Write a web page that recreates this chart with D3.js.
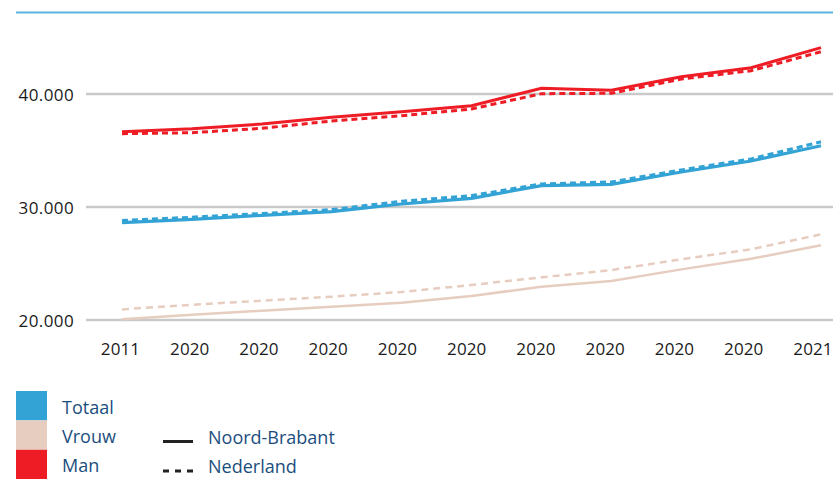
<!DOCTYPE html>
<html>
<head>
<meta charset="utf-8">
<script src="https://cdn.jsdelivr.net/npm/d3@7"></script>
<style>
  html, body { margin: 0; padding: 0; background: #fff; }
  svg { display: block; }
  text { font-family: "Open Sans", sans-serif; }
</style>
</head>
<body>
<svg id="chart" width="837" height="479"></svg>
<script>
const categories = ["2011","2020","2020","2020","2020","2020","2020","2020","2020","2020","2021"];
const yTicks = [20000, 30000, 40000];

const totaalNB = [28610, 28910, 29265, 29590, 30265, 30770, 31885, 32010, 33100, 34070, 35420];
const totaalNL = [28790, 29090, 29410, 29760, 30500, 31000, 32035, 32210, 33270, 34250, 35770];
const vrouwNB  = [20060, 20470, 20820, 21180, 21530, 22120, 22950, 23450, 24480, 25420, 26610];
const vrouwNL  = [20940, 21350, 21710, 22060, 22480, 23100, 23780, 24420, 25370, 26260, 27580];
const manNB    = [36660, 36930, 37345, 37935, 38434, 38965, 40504, 40327, 41531, 42327, 44100];
const manNL    = [36490, 36575, 36965, 37610, 38080, 38673, 40027, 40062, 41327, 42062, 43743];

const groups = ["Totaal", "Vrouw", "Man"];
const colors = { Totaal: "#33a3d5", Vrouw: "#e6cdbf", Man: "#ee1c25" };
const regions = ["Noord-Brabant", "Nederland"];

const series = [
  { group: "Vrouw",  region: "Noord-Brabant", values: vrouwNB,  width: 2.5 },
  { group: "Vrouw",  region: "Nederland",     values: vrouwNL,  width: 2.5 },
  { group: "Totaal", region: "Noord-Brabant", values: totaalNB, width: 3.2 },
  { group: "Totaal", region: "Nederland",     values: totaalNL, width: 3.2 },
  { group: "Man",    region: "Noord-Brabant", values: manNB,    width: 3 },
  { group: "Man",    region: "Nederland",     values: manNL,    width: 3 }
];

const svg = d3.select("#chart");

const x = d3.scalePoint().domain(d3.range(categories.length)).range([122, 821]);
const xLabel = d3.scalePoint().domain(d3.range(categories.length)).range([120.5, 813]);
const y = d3.scaleLinear().domain([20000, 40000]).range([320, 94]);

// top decorative line
svg.append("line")
  .attr("x1", 16).attr("x2", 833).attr("y1", 12.5).attr("y2", 12.5)
  .attr("stroke", "#5ab4e0").attr("stroke-width", 2);

// gridlines
svg.append("g").selectAll("line").data(yTicks).join("line")
  .attr("x1", 86).attr("x2", 833)
  .attr("y1", d => y(d)).attr("y2", d => y(d))
  .attr("stroke", "#c9c9c9").attr("stroke-width", 2.5);

// y labels
const fmt = d => d3.format(",")(d).replace(/,/g, ".");
svg.append("g").selectAll("text").data(yTicks).join("text")
  .attr("x", 74).attr("y", d => y(d))
  .attr("text-anchor", "end").attr("dominant-baseline", "central")
  .attr("font-size", 17).attr("letter-spacing", 0.4).attr("fill", "#1a1a1a")
  .text(fmt);

// x labels
svg.append("g").selectAll("text").data(categories).join("text")
  .attr("x", (d, i) => xLabel(i)).attr("y", 348)
  .attr("text-anchor", "middle").attr("dominant-baseline", "central")
  .attr("font-size", 17).attr("letter-spacing", 0.1).attr("fill", "#1a1a1a")
  .text(d => d);

// lines
const line = d3.line().x((d, i) => x(i)).y(d => y(d));
svg.append("g").selectAll("path").data(series).join("path")
  .attr("d", d => line(d.values))
  .attr("fill", "none")
  .attr("stroke", d => colors[d.group])
  .attr("stroke-width", d => d.width)
  .attr("stroke-dasharray", d => d.region === "Nederland" ? (d.group === "Vrouw" ? "7,5" : "6,4") : null);

// legend: colour squares
const lg = svg.append("g");
groups.forEach((g, i) => {
  const top = 391 + i * 29.4;
  lg.append("rect").attr("x", 16).attr("y", top).attr("width", 31).attr("height", 29.4)
    .attr("fill", colors[g]);
  lg.append("text").attr("x", 62).attr("y", top + 15.5)
    .attr("dominant-baseline", "central").attr("font-size", 18).attr("fill", "#1b4e7e")
    .text(g);
});

// legend: line styles
regions.forEach((r, i) => {
  const cy = 441.5 + i * 29.4;
  lg.append("line").attr("x1", 163).attr("x2", 193).attr("y1", cy).attr("y2", cy)
    .attr("stroke", "#222").attr("stroke-width", 3)
    .attr("stroke-dasharray", i === 1 ? "6,6" : null);
  lg.append("text").attr("x", 208).attr("y", cy - 4.5)
    .attr("dominant-baseline", "central").attr("font-size", 18).attr("fill", "#1b4e7e")
    .text(r);
});
</script>
</body>
</html>
